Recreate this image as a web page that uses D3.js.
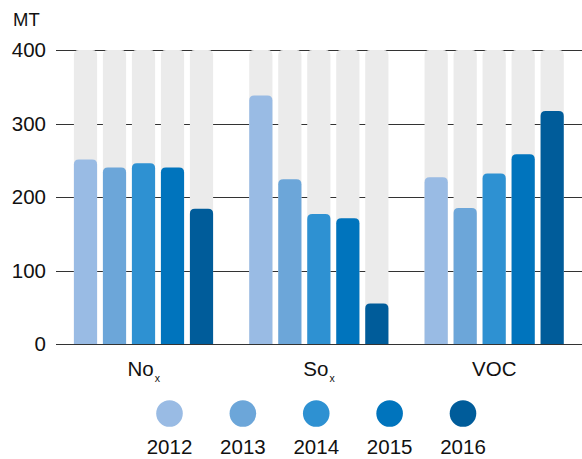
<!DOCTYPE html>
<html>
<head>
<meta charset="utf-8">
<script src="https://cdn.jsdelivr.net/npm/d3@7"></script>
<style>
  body { margin: 0; background: #fff; }
  text { font-family: "Liberation Sans", Arial, sans-serif; fill: #111; }
</style>
</head>
<body>
<svg id="chart"></svg>
<script>
// DATA
const categories = ["No", "So", "VOC"];
const categorySubs = ["x", "x", ""];
const years = ["2012", "2013", "2014", "2015", "2016"];
const noxValues = [251, 240, 246, 240, 184];
const soxValues = [338, 224, 177, 171, 55];
const vocValues = [227, 185, 232, 258, 317];
const yTicks = [0, 100, 200, 300, 400];
const colors = ["#99bbe4", "#6ca6d9", "#2e91d2", "#0074bd", "#005c9a"];

const width = 582, height = 459;
const margin = { top: 50, right: 0, bottom: 115, left: 56 };

const seriesByCat = [noxValues, soxValues, vocValues];
const data = [];
categories.forEach((c, i) => {
  years.forEach((y, j) => data.push({ cat: c, year: y, value: seriesByCat[i][j] }));
});

const svg = d3.select("#chart").attr("width", width).attr("height", height);

// + SCALES
const xScale = d3.scaleBand()
  .domain(categories)
  .range([margin.left, width - margin.right]);

const xInner = d3.scaleBand()
  .domain(years)
  .range([15, 160])
  .paddingInner(0.2)
  .paddingOuter(0.1);

const yScale = d3.scaleLinear()
  .domain([0, 400])
  .range([height - margin.bottom, margin.top]);

// gridlines
svg.append("g")
  .selectAll("line")
  .data(yTicks)
  .join("line")
  .attr("x1", margin.left)
  .attr("x2", width)
  .attr("y1", d => Math.round(yScale(d)) + 0.5)
  .attr("y2", d => Math.round(yScale(d)) + 0.5)
  .attr("stroke", "#333")
  .attr("stroke-width", 1);

// y labels
svg.append("g")
  .selectAll("text")
  .data(yTicks)
  .join("text")
  .attr("x", 46)
  .attr("y", d => yScale(d))
  .attr("dy", "0.36em")
  .attr("text-anchor", "end")
  .attr("font-size", 20.5)
  .text(d => d);

svg.append("text")
  .attr("x", 13)
  .attr("y", 26)
  .attr("font-size", 18.5)
  .text("MT");

// rounded-top bar path
function topRounded(x, y, w, h, r) {
  r = Math.min(r, h, w / 2);
  return `M${x},${y + h}V${y + r}Q${x},${y} ${x + r},${y}H${x + w - r}Q${x + w},${y} ${x + w},${y + r}V${y + h}Z`;
}

const bw = xInner.bandwidth();
const y0 = yScale(0);

// background bars
svg.append("g")
  .selectAll("path")
  .data(data)
  .join("path")
  .attr("fill", "#ebebeb")
  .attr("d", d => {
    const x = xScale(d.cat) + xInner(d.year);
    return topRounded(x, yScale(400), bw, y0 - yScale(400), 5);
  });

// value bars
svg.append("g")
  .selectAll("path")
  .data(data)
  .join("path")
  .attr("fill", d => colors[years.indexOf(d.year)])
  .attr("d", d => {
    const x = xScale(d.cat) + xInner(d.year);
    return topRounded(x, yScale(d.value), bw, y0 - yScale(d.value), 5);
  });

// redraw baseline on top
svg.append("line")
  .attr("x1", margin.left).attr("x2", width)
  .attr("y1", Math.round(y0) + 0.5).attr("y2", Math.round(y0) + 0.5)
  .attr("stroke", "#333");

// category labels
const catLabels = svg.append("g")
  .selectAll("text")
  .data(categories)
  .join("text")
  .attr("x", d => xScale(d) + xScale.bandwidth() / 2)
  .attr("y", 376)
  .attr("text-anchor", "middle")
  .attr("font-size", 20.5);

catLabels.append("tspan").text(d => d);
catLabels.append("tspan")
  .attr("font-size", 10.5)
  .attr("dx", 1)
  .attr("dy", 6)
  .text((d, i) => categorySubs[i]);

// legend
const legendX = d3.scalePoint()
  .domain(years)
  .range([169.5, 463]);

const legend = svg.append("g")
  .selectAll("g")
  .data(years)
  .join("g")
  .attr("transform", d => `translate(${legendX(d)}, 0)`);

legend.append("circle")
  .attr("cy", 413.5)
  .attr("r", 13.3)
  .attr("fill", (d, i) => colors[i]);

legend.append("text")
  .attr("y", 454)
  .attr("text-anchor", "middle")
  .attr("font-size", 20.5)
  .text(d => d);
</script>
</body>
</html>
